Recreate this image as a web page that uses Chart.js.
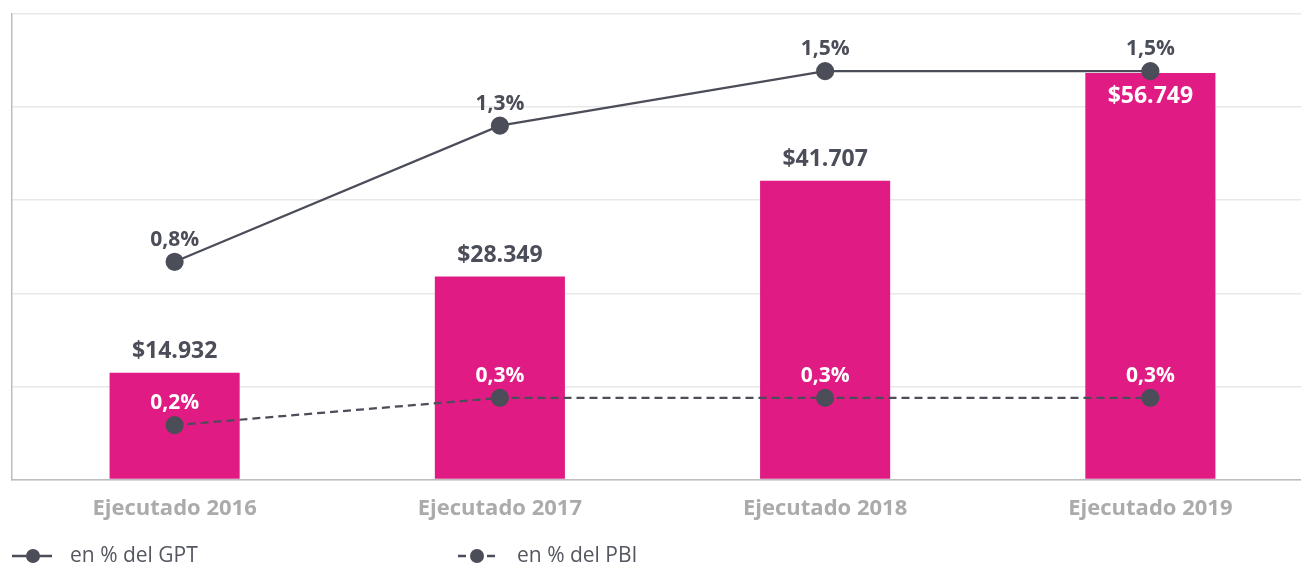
<!DOCTYPE html>
<html lang="es">
<head>
<meta charset="utf-8">
<title>Ejecutado 2016–2019</title>
<script src="https://cdn.jsdelivr.net/npm/chart.js@4.4.1/dist/chart.umd.min.js"></script>
<style>
  html, body { margin: 0; padding: 0; background: #ffffff; overflow: hidden; }
  #wrap { position: relative; width: 1313px; height: 565px; }
  #chart { display: block; }
</style>
</head>
<body>
<div id="wrap"><canvas id="chart" width="1313" height="565"></canvas></div>
<script>
// Montos ejecutados (millones de $) y su peso relativo
const categories = ['Ejecutado 2016', 'Ejecutado 2017', 'Ejecutado 2018', 'Ejecutado 2019'];
const montos = [14932, 28349, 41707, 56749];
const pctGPT = [0.8, 1.3, 1.5, 1.5];
const pctPBI = [0.2, 0.3, 0.3, 0.3];
const legendLabels = ['en % del GPT', 'en % del PBI'];

const MAGENTA = '#e11b84';
const DARK = '#4b4d59';
const FONT = '"Open Sans", "Noto Sans", sans-serif';

const fmtMonto = v => '$' + String(v).replace(/\B(?=(\d{3})+(?!\d))/g, '.');
const fmtPct = v => v.toFixed(1).replace('.', ',') + '%';

// Etiquetas de valor sobre barras y puntos
const valueLabels = {
  id: 'valueLabels',
  afterDatasetsDraw(chart) {
    const ctx = chart.ctx;
    const barMeta = chart.getDatasetMeta(0);
    const gptMeta = chart.getDatasetMeta(1);
    const pbiMeta = chart.getDatasetMeta(2);
    ctx.save();
    ctx.textAlign = 'center';
    ctx.textBaseline = 'middle';

    barMeta.data.forEach((bar, i) => {
      const pt = gptMeta.data[i];
      const inside = (bar.y - pt.y) < 40;
      ctx.font = 'bold 23px ' + FONT;
      ctx.fillStyle = inside ? '#ffffff' : DARK;
      ctx.fillText(fmtMonto(montos[i]), bar.x, inside ? bar.y + 23 : bar.y - 21);
    });

    [[gptMeta, pctGPT], [pbiMeta, pctPBI]].forEach(([meta, values]) => {
      meta.data.forEach((pt, i) => {
        const bar = barMeta.data[i];
        const overBar = pt.y - 22 > bar.y;
        ctx.font = 'bold 21px ' + FONT;
        ctx.fillStyle = overBar ? '#ffffff' : DARK;
        ctx.fillText(fmtPct(values[i]), pt.x, pt.y - 22);
      });
    });
    ctx.restore();
  }
};

// Leyenda inferior con iconos de línea y punto
const bottomLegend = {
  id: 'bottomLegend',
  afterDraw(chart) {
    const ctx = chart.ctx;
    const y = chart.height - 9;
    ctx.save();
    ctx.strokeStyle = DARK;
    ctx.fillStyle = DARK;
    ctx.lineWidth = 2.5;

    // línea continua
    ctx.beginPath();
    ctx.moveTo(12, y); ctx.lineTo(52, y);
    ctx.stroke();
    ctx.beginPath(); ctx.arc(33, y, 7, 0, Math.PI * 2); ctx.fill();

    // línea discontinua
    ctx.beginPath();
    ctx.moveTo(458, y); ctx.lineTo(466, y);
    ctx.moveTo(487, y); ctx.lineTo(495, y);
    ctx.stroke();
    ctx.beginPath(); ctx.arc(477, y, 7, 0, Math.PI * 2); ctx.fill();

    ctx.font = '21px ' + FONT;
    ctx.fillStyle = '#555761';
    ctx.textAlign = 'left';
    ctx.textBaseline = 'middle';
    ctx.fillText(legendLabels[0], 70, y);
    ctx.fillText(legendLabels[1], 517, y);
    ctx.restore();
  }
};

new Chart(document.getElementById('chart'), {
  data: {
    labels: categories,
    datasets: [
      {
        type: 'bar',
        label: 'Monto',
        data: montos,
        backgroundColor: MAGENTA,
        barPercentage: 0.5,
        categoryPercentage: 0.8,
        yAxisID: 'y',
        order: 2
      },
      {
        type: 'line',
        label: legendLabels[0],
        data: pctGPT,
        borderColor: DARK,
        borderWidth: 2.2,
        pointRadius: 8,
        pointBackgroundColor: DARK,
        pointBorderColor: DARK,
        tension: 0,
        yAxisID: 'y1',
        order: 0
      },
      {
        type: 'line',
        label: legendLabels[1],
        data: pctPBI,
        borderColor: DARK,
        borderWidth: 2.2,
        borderDash: [8, 5],
        pointRadius: 8,
        pointBackgroundColor: DARK,
        pointBorderColor: DARK,
        tension: 0,
        yAxisID: 'y1',
        order: 1
      }
    ]
  },
  options: {
    responsive: false,
    animation: false,
    layout: { autoPadding: false, padding: { left: 12, top: 14, right: 0, bottom: 35 } },
    plugins: {
      legend: { display: false },
      tooltip: { enabled: false }
    },
    scales: {
      x: {
        offset: true,
        grid: { display: false },
        border: { display: true, color: '#bdbdbd', width: 1.5 },
        ticks: {
          color: '#ababab',
          padding: 8,
          font: { family: FONT, size: 22, weight: 'bold' }
        }
      },
      y: {
        position: 'left',
        min: 0,
        max: 65000,
        grid: { color: '#e8e8e8', lineWidth: 1.5, drawTicks: false },
        border: { display: true, color: '#bdbdbd', width: 1.5 },
        ticks: { display: false, stepSize: 13000 }
      },
      y1: {
        display: false,
        min: 0,
        max: 1.71
      }
    }
  },
  plugins: [valueLabels, bottomLegend]
});
</script>
</body>
</html>
